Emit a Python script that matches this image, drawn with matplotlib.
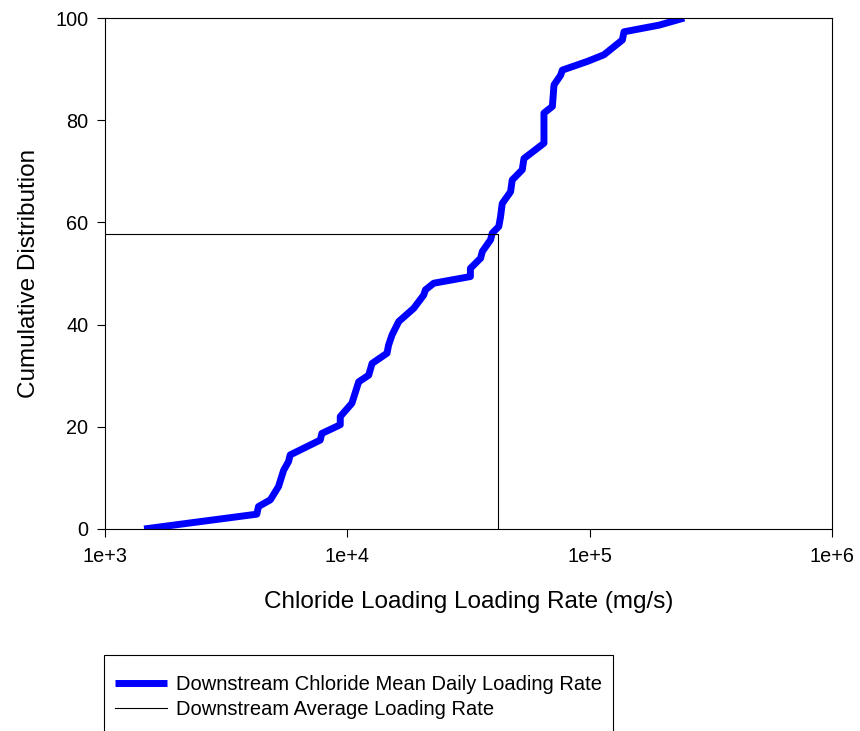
import numpy as np
import matplotlib.pyplot as plt
from matplotlib.patches import Rectangle
from matplotlib.ticker import FixedLocator, FixedFormatter, NullLocator

plt.rcParams['font.family'] = ['Liberation Sans', 'DejaVu Sans']

# cumulative distribution of downstream chloride loading (mg/s vs %)
load = [1450, 4230, 4300, 4810, 5200, 5460, 5720, 5810, 7730, 7850, 9350, 9350,
        10440, 11140, 12250, 12650, 14580, 14800, 15300, 16300, 18800, 20670,
        21000, 22730, 32200, 32200, 35480, 36060, 39000, 39640, 42170, 42870,
        43580, 47170, 47900, 52700, 53570, 64770, 64770, 70170, 71250, 75900,
        77100, 97800, 114500, 136400, 138600, 193300, 245500]
cum = [0.0, 2.9, 4.4, 5.7, 8.3, 11.5, 13.2, 14.5, 17.4, 18.7, 20.4, 22.0,
       24.6, 28.8, 30.1, 32.4, 34.4, 36.0, 38.0, 40.6, 43.2, 45.8,
       46.8, 48.1, 49.4, 51.0, 53.0, 54.3, 56.6, 57.9, 59.2, 61.1,
       63.7, 66.0, 68.3, 70.3, 72.5, 75.5, 81.4, 82.7, 86.9, 88.8,
       89.8, 91.5, 92.8, 95.7, 97.3, 98.6, 100.0]

avg_load = 42000
avg_cum = 57.8

W, H = 860, 731
fig = plt.figure(figsize=(W / 100, H / 100), dpi=100)
ax = fig.add_axes([105 / W, 1 - 529 / H, 727 / W, 511 / H])

ax.plot(load, cum, color='#0000ff', linewidth=5.0, solid_capstyle='butt',
        label='Downstream Chloride Mean Daily Loading Rate')
ax.plot([1e3, avg_load, avg_load], [avg_cum, avg_cum, 0], color='black',
        linewidth=0.8, label='Downstream Average Loading Rate')

ax.set_xscale('log')
ax.set_xlim(1e3, 1e6)
ax.set_ylim(0, 100)
ax.xaxis.set_major_locator(FixedLocator([1e3, 1e4, 1e5, 1e6]))
ax.xaxis.set_major_formatter(FixedFormatter(['1e+3', '1e+4', '1e+5', '1e+6']))
ax.xaxis.set_minor_locator(NullLocator())
ax.set_yticks([0, 20, 40, 60, 80, 100])
ax.tick_params(direction='out', length=6, width=0.8, labelsize=14.3)
ax.tick_params(axis='x', pad=7)
ax.tick_params(axis='y', pad=6)
for s in ax.spines.values():
    s.set_linewidth(0.8)

ax.set_xlabel('Chloride Loading Loading Rate (mg/s)', fontsize=17.5, labelpad=18)
ax.set_ylabel('Cumulative Distribution', fontsize=17.5, labelpad=11)

# legend box runs off the bottom edge
fig.patches.append(Rectangle((104 / W, -0.05), (613 - 104) / W, 0.05 + 1 - 655.5 / H,
                             transform=fig.transFigure, fill=False,
                             edgecolor='black', linewidth=0.8))
fig.legend(loc='upper left', bbox_to_anchor=(115 / W, 1 - 675 / H),
           fontsize=14.5, frameon=False, borderpad=0, borderaxespad=0,
           handlelength=2.6, labelspacing=0.28, handletextpad=0.45)

fig.savefig('out.png', dpi=100)
